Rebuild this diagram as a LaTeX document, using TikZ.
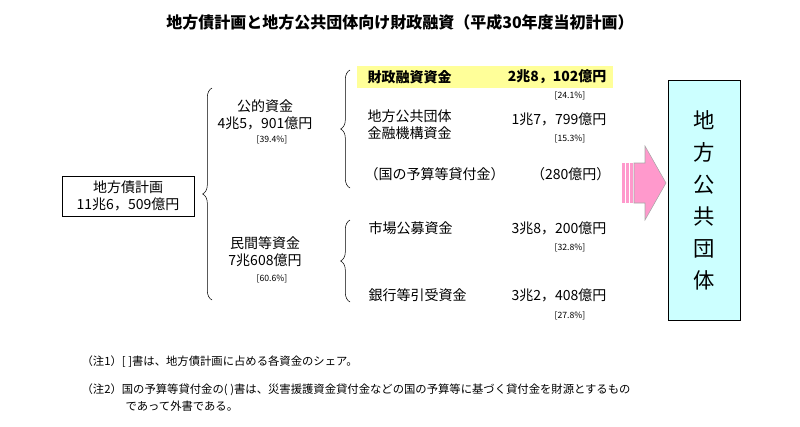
\documentclass[tikz,border=0pt]{standalone}
\usepackage{fontspec}
\setmainfont{Noto Sans CJK JP}
\usetikzlibrary{decorations.pathreplacing,positioning}
\definecolor{hiyellow}{RGB}{255,255,153}
\definecolor{boxcyan}{RGB}{204,255,255}
\definecolor{arrowpink}{RGB}{255,153,204}
\begin{document}
\begin{tikzpicture}
		[x=0.75pt,y=-0.75pt,
		lbl/.style={font=\fontsize{10.5}{12.5}\selectfont,inner sep=1pt},
		pct/.style={font=\fontsize{6.5}{7}\selectfont,inner sep=1pt},
		note/.style={font=\fontsize{8.5}{10}\selectfont,inner sep=1pt,anchor=west},
		brc/.style={decorate,decoration={brace,amplitude=7pt},thin},]
		\useasboundingbox (0,0) rectangle (800,426);
		\node[font=\fontsize{12}{14}\selectfont\bfseries] (title) at (400,22) {地方債計画と地方公共団体向け財政融資（平成30年度当初計画）};
		
		% left box
		\node[draw,lbl,align=center,minimum width=99pt,minimum height=30pt,inner sep=2pt] (plan) at (128,196) {地方債計画\\11兆6，509億円};
		
		% braces
		\draw[brc] (212,300) -- (212,88);
		\draw[brc] (350,188) -- (350,70);
		\draw[brc] (350,302) -- (350,220);
		
		% middle
		\node[lbl,align=center] (pub) at (265,115) {公的資金\\4兆5，901億円};
		\node[pct] (pubp) at (272,140) {[39.4\%]};
		\node[lbl,align=center] (priv) at (265,252) {民間等資金\\7兆608億円};
		\node[pct] (privp) at (272,279) {[60.6\%]};
		
		% right items
		\fill[hiyellow] (357,66) rectangle (613,88);
		\node[lbl,anchor=west,font=\fontsize{10.5}{12.5}\selectfont\bfseries] (zaito) at (366,77) {財政融資資金};
		\node[lbl,anchor=east,font=\fontsize{10.5}{12.5}\selectfont\bfseries] (zaitov) at (608,77) {2兆8，102億円};
		\node[pct] (zaitop) at (570,96) {[24.1\%]};
		\node[lbl,anchor=west,align=left] (kiko) at (366,125) {地方公共団体\\金融機構資金};
		\node[lbl,anchor=east] (kikov) at (608,119) {1兆7，799億円};
		\node[pct] (kikop) at (570,139) {[15.3\%]};
		\node[lbl,anchor=west] (kuni) at (363,174) {（国の予算等貸付金）};
		\node[lbl,anchor=east] (kuniv) at (612,174) {（280億円）};
		\node[lbl,anchor=west] (shijo) at (367,228) {市場公募資金};
		\node[lbl,anchor=east] (shijov) at (608,228) {3兆8，200億円};
		\node[pct] (shijop) at (570,248) {[32.8\%]};
		\node[lbl,anchor=west] (ginko) at (367,295) {銀行等引受資金};
		\node[lbl,anchor=east] (ginkov) at (608,295) {3兆2，408億円};
		\node[pct] (ginkop) at (570,316) {[27.8\%]};
		
		% arrow
		\foreach \x in {622,626,630}
			\fill[arrowpink] (\x,163) rectangle ++(2.5,40);
		\fill[arrowpink,draw=gray!70] (634,163) -- (645,163) -- (645,146) -- (666,183) -- (645,220) -- (645,203) -- (634,203) -- cycle;
		
		% target
		\node[draw,fill=boxcyan,minimum width=54pt,minimum height=180pt,align=center,font=\fontsize{16}{24}\selectfont] (dantai) at (704,200) {地\\方\\公\\共\\団\\体};
		
		% notes
		\node[note] (n1) at (80,362) {（注1）[ ]書は、地方債計画に占める各資金のシェア。};
		\node[note] (n2) at (80,390) {（注2）国の予算等貸付金の( )書は、災害援護資金貸付金などの国の予算等に基づく貸付金を財源とするもの};
		\node[note] (n3) at (124,406) {であって外書である。};
	\end{tikzpicture}
\end{document}
